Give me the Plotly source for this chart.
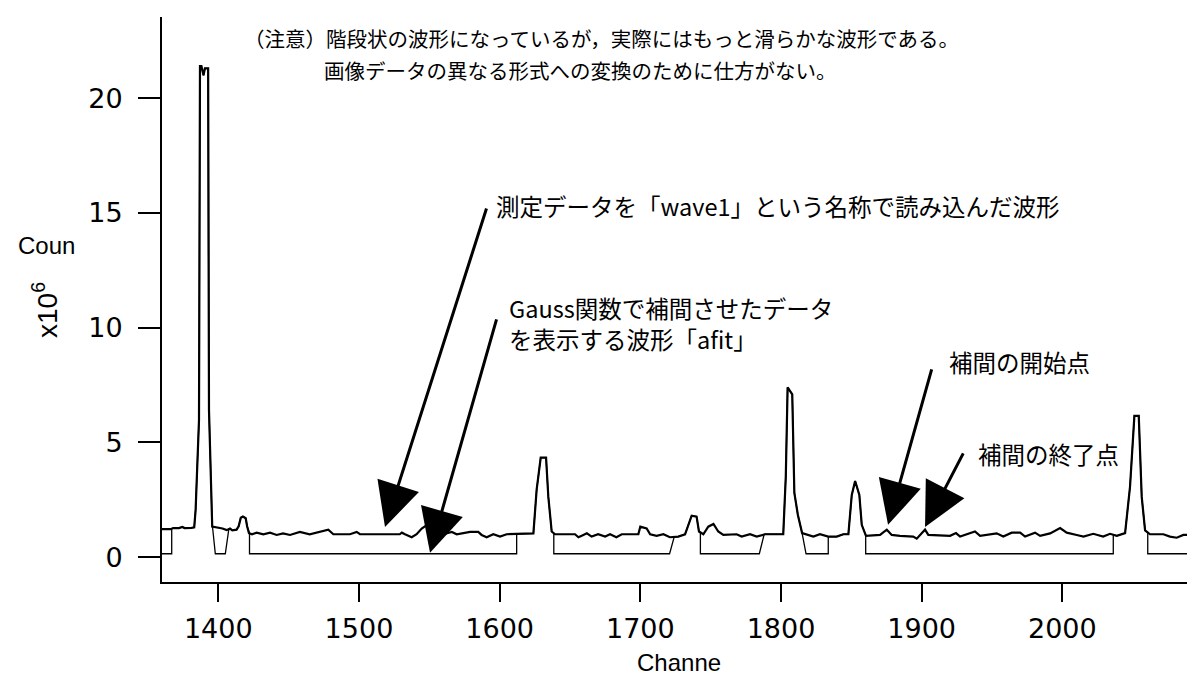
import numpy as np
import plotly.graph_objects as go

# ---- data (x: Channel, y: Counts x10^6) ----
wave1_x = [1360.0, 1366.0, 1368.0, 1372.0, 1374.5, 1376.0, 1381.0, 1382.9, 1383.9, 1386.3,
           1387.0, 1388.0, 1389.5, 1390.5, 1392.8, 1393.4, 1395.7, 1399.0, 1403.0, 1406.0,
           1408.3, 1410.0, 1413.0, 1414.5, 1416.0, 1417.5, 1419.5, 1420.5, 1421.8, 1424.0,
           1427.3, 1432.0, 1436.8, 1441.5, 1446.0, 1451.0, 1458.0, 1465.0, 1470.0, 1474.6,
           1478.2, 1481.8, 1493.6, 1498.4, 1500.7, 1529.0, 1530.5, 1532.7, 1537.5, 1541.0,
           1544.6, 1548.0, 1551.7, 1555.3, 1560.0, 1566.0, 1569.5, 1579.0, 1584.8, 1587.2,
           1590.8, 1595.5, 1600.3, 1605.0, 1624.0, 1626.3, 1629.2, 1633.0, 1634.6, 1637.0,
           1639.4, 1653.6, 1656.0, 1659.5, 1662.0, 1665.4, 1670.0, 1675.0, 1678.5, 1683.0,
           1686.8, 1698.6, 1700.0, 1704.5, 1707.0, 1711.6, 1716.4, 1721.0, 1727.0, 1731.8,
           1736.5, 1740.0, 1741.7, 1744.8, 1748.3, 1752.0, 1755.4, 1759.0, 1768.5, 1772.0,
           1778.0, 1782.7, 1788.6, 1801.6, 1803.4, 1804.7, 1808.0, 1809.5, 1812.0, 1815.0,
           1818.3, 1823.0, 1827.7, 1833.6, 1839.6, 1844.3, 1847.9, 1850.3, 1852.7, 1855.7,
           1857.4, 1860.4, 1870.4, 1875.2, 1878.7, 1884.6, 1894.0, 1896.5, 1900.0, 1902.4,
           1904.7, 1920.2, 1924.4, 1927.3, 1937.9, 1941.5, 1953.3, 1958.0, 1964.0, 1970.0,
           1973.5, 1980.6, 1984.2, 1991.3, 1998.4, 2003.1, 2010.2, 2015.0, 2022.0, 2029.0,
           2033.9, 2038.7, 2044.6, 2048.1, 2051.2, 2054.3, 2056.4, 2058.8, 2062.3, 2071.8,
           2076.5, 2081.3, 2086.0, 2089.0]
wave1_y = [1.22, 1.22, 1.27, 1.27, 1.32, 1.27, 1.28, 1.30, 2.06, 5.98,
           21.4, 21.4, 21.0, 21.3, 21.3, 6.42, 1.33, 1.30, 1.25, 1.18,
           1.25, 1.17, 1.20, 1.35, 1.72, 1.77, 1.70, 1.35, 1.05, 1.00,
           1.07, 1.00, 1.07, 0.97, 1.04, 0.97, 1.10, 1.00, 1.07, 1.15,
           1.20, 1.00, 1.00, 1.10, 1.00, 1.00, 1.07, 1.00, 0.87, 1.00,
           1.25, 1.39, 1.25, 0.97, 1.00, 1.10, 1.00, 1.10, 1.10, 0.97,
           0.87, 1.00, 0.90, 1.00, 1.04, 2.93, 4.34, 4.34, 2.64, 1.12,
           1.00, 1.00, 0.87, 0.97, 1.04, 0.90, 1.00, 0.90, 1.00, 0.87,
           1.00, 1.00, 1.33, 1.25, 1.00, 0.93, 1.00, 0.87, 0.90, 1.00,
           1.81, 1.77, 1.12, 1.00, 1.33, 1.45, 1.12, 0.97, 1.00, 0.90,
           1.00, 0.90, 1.00, 1.00, 3.50, 7.40, 7.10, 2.80, 1.84, 1.05,
           1.00, 0.90, 1.00, 0.90, 0.90, 1.00, 1.00, 2.71, 3.32, 2.71,
           1.41, 0.93, 0.97, 1.20, 0.97, 0.93, 0.90, 0.81, 1.04, 1.20,
           0.97, 0.93, 1.05, 0.90, 1.12, 0.93, 1.04, 0.90, 1.07, 1.07,
           0.90, 1.07, 0.93, 1.04, 1.27, 1.07, 0.97, 0.90, 1.02, 0.90,
           1.02, 0.93, 1.05, 3.07, 6.16, 6.16, 2.64, 1.17, 1.00, 1.00,
           0.90, 0.85, 0.97, 0.97]

# afit: baseline outside the fitted ranges; follows wave1 inside them
afit_base = 0.15
# (baseline end, start of follow, end of follow, baseline restart)
afit_ranges = [(1366.9, 1366.9, 1395.9, 1397.9),
               (1405.0, 1407.5, 1422.2, 1422.2),
               (1612.1, 1612.1, 1638.5, 1638.5),
               (1720.8, 1724.1, 1742.7, 1742.7),
               (1784.6, 1788.0, 1815.0, 1817.8),
               (1833.6, 1833.6, 1860.2, 1860.2),
               (2036.2, 2036.2, 2060.7, 2060.7)]

x_ticks = [1400, 1500, 1600, 1700, 1800, 1900, 2000]
y_ticks = [0, 5, 10, 15, 20]
x_range = [1360.0, 2088.6]
y_range = [-1.08, 23.54]

# ---- build afit from wave1 and ranges ----
wx = np.array(wave1_x)
wy = np.array(wave1_y)
afit_x, afit_y = [x_range[0]], [afit_base]
for a0, a, b, b1 in afit_ranges:
    afit_x += [a0, a]
    afit_y += [afit_base, float(np.interp(a, wx, wy))]
    m = (wx > a) & (wx < b)
    afit_x += list(wx[m])
    afit_y += list(wy[m])
    afit_x += [b, b1]
    afit_y += [float(np.interp(b, wx, wy)), afit_base]
afit_x.append(x_range[1])
afit_y.append(afit_base)

fig = go.Figure()
fig.add_trace(go.Scatter(x=afit_x, y=afit_y, mode="lines",
                         line=dict(color="black", width=1.3), name="afit",
                         showlegend=False))
fig.add_trace(go.Scatter(x=wave1_x, y=wave1_y, mode="lines",
                         line=dict(color="black", width=2.2), name="wave1",
                         showlegend=False))

W, H = 1187, 675
L, R, T, B = 162, 0, 17, 93
PW, PH = W - L - R, H - T - B


def px(xp):
    return (xp - L) / PW


def py(yp):
    return (H - B - yp) / PH


cjk = "Noto Sans CJK JP"
annotations = []


def label(text, x, y, size, family=cjk, xanchor="left", yanchor="middle", angle=0):
    annotations.append(dict(text=text, xref="paper", yref="paper", x=px(x), y=py(y),
                            xanchor=xanchor, yanchor=yanchor, showarrow=False,
                            textangle=angle, align="left",
                            font=dict(family=family, size=size, color="black")))


label("（注意）階段状の波形になっているが，実際にはもっと滑らかな波形である。", 242, 38, 20.5)
label("画像データの異なる形式への変換のために仕方がない。", 322, 70, 20.5)
label("測定データを「wave1」という名称で読み込んだ波形", 494, 206, 23.5)
label("Gauss関数で補間させたデータ<br>を表示する波形「afit」", 507, 323, 23.5)
label("補間の開始点", 947, 362, 23.5)
label("補間の終了点", 976, 454, 23.5)
label("Coun", 16, 245, 24, family="Liberation Sans")
label("x10<sup>6</sup>", 45, 310, 28, family="Liberation Sans", xanchor="center", angle=-90)
label("Channe", 635, 662, 24, family="Liberation Sans")

arrows = [((1591.0, 15.26), (1518.5, 1.32)),
          ((1598.1, 10.43), (1550.5, 0.19)),
          ((1907.4, 8.25), (1876.1, 1.41)),
          ((1930.1, 4.59), (1902.4, 1.32))]
for (tx, ty), (hx, hy) in arrows:
    annotations.append(dict(x=hx, y=hy, ax=tx, ay=ty, xref="x", yref="y",
                            axref="x", ayref="y", text="", showarrow=True,
                            arrowhead=2, arrowsize=2.9, arrowwidth=3,
                            arrowcolor="black", standoff=0, startstandoff=0))

fig.update_layout(
    width=W, height=H,
    margin=dict(l=L, r=R, t=T, b=B, pad=0),
    plot_bgcolor="white", paper_bgcolor="white",
    annotations=annotations,
    xaxis=dict(range=x_range, tickvals=x_ticks, ticks="outside", ticklen=18,
               tickwidth=2, tickcolor="black", showline=True, linewidth=2,
               linecolor="black", showgrid=False, zeroline=False,
               ticklabelstandoff=4,
               tickfont=dict(family="DejaVu Sans", size=27, color="black")),
    yaxis=dict(range=y_range, tickvals=y_ticks, ticks="outside", ticklen=22,
               tickwidth=2, tickcolor="black", showline=True, linewidth=2,
               linecolor="black", showgrid=False, zeroline=False,
               ticklabelstandoff=10,
               tickfont=dict(family="DejaVu Sans", size=27, color="black")),
)

fig.write_html("out.html", config={"displayModeBar": False},
               post_script="document.body.style.margin='0';"
                           "document.body.style.overflow='hidden';")
